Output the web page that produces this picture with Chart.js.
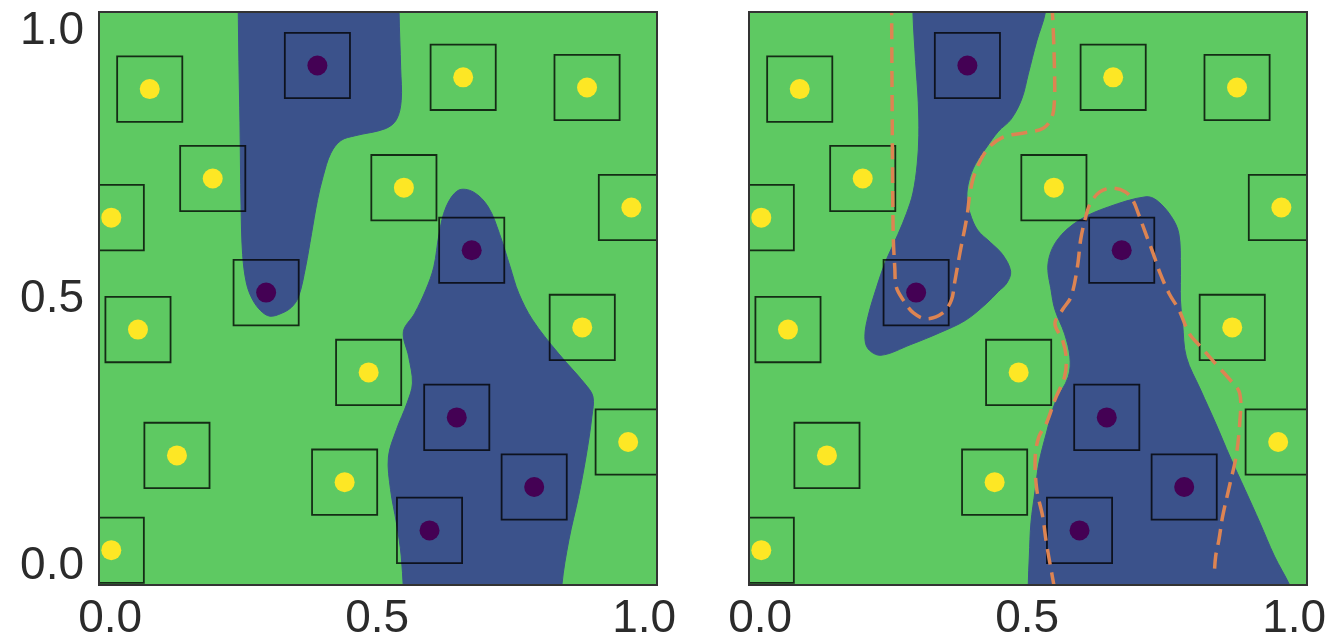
<!DOCTYPE html>
<html>
<head>
<meta charset="utf-8">
<script src="https://cdn.jsdelivr.net/npm/chart.js@4.4.1/dist/chart.umd.min.js"></script>
<style>
  html, body { margin: 0; padding: 0; background: #ffffff; }
  .panel { position: absolute; top: 0; height: 644px; }
  #leftPanel { left: 0; width: 700px; }
  #rightPanel { left: 680px; width: 652px; }
</style>
</head>
<body>
<div class="panel" id="leftPanel"><canvas id="leftChart" width="700" height="644"></canvas></div>
<div class="panel" id="rightPanel"><canvas id="rightChart" width="652" height="644"></canvas></div>
<script>
// tick labels
const xTicks = [0, 0.5, 1.0];
const yTicks = [0, 0.5, 1.0];

// training points (class 1 = yellow, class 0 = purple)
const yellowPoints = [
  [0.074, 0.892], [0.661, 0.914], [0.893, 0.895], [0.192, 0.725], [0.550, 0.708],
  [0.002, 0.652], [0.976, 0.671], [0.052, 0.443], [0.884, 0.447], [0.484, 0.363],
  [0.125, 0.208], [0.439, 0.158], [0.970, 0.233], [0.002, 0.031]
];
const purplePoints = [
  [0.388, 0.936], [0.292, 0.512], [0.677, 0.591], [0.649, 0.279], [0.794, 0.149], [0.598, 0.068]
];
// half width of the box drawn round every point
const boxRadius = 0.061;

// decision regions of class 0 (left model)
const leftUpperRegion = [
  [0.239, 1.10], [0.541, 1.10], [0.541, 1.035], [0.544, 0.93], [0.545, 0.871], [0.536, 0.835],
  [0.515, 0.818], [0.459, 0.805], [0.432, 0.796], [0.413, 0.772], [0.399, 0.730], [0.388, 0.684],
  [0.377, 0.622], [0.366, 0.560], [0.353, 0.505], [0.340, 0.485], [0.320, 0.473], [0.299, 0.468],
  [0.282, 0.478], [0.266, 0.500], [0.255, 0.530], [0.248, 0.583], [0.245, 0.675], [0.243, 0.829],
  [0.241, 0.944], [0.239, 1.10]
];
const leftLowerRegion = [
  [0.552, -0.1], [0.545, 0.020], [0.536, 0.082], [0.525, 0.144], [0.521, 0.205], [0.536, 0.256],
  [0.556, 0.306], [0.566, 0.343], [0.559, 0.392], [0.549, 0.439], [0.570, 0.473], [0.591, 0.517],
  [0.606, 0.560], [0.616, 0.622], [0.629, 0.672], [0.652, 0.703], [0.680, 0.700], [0.708, 0.672],
  [0.729, 0.622], [0.749, 0.560], [0.765, 0.511], [0.791, 0.461], [0.839, 0.399], [0.888, 0.343],
  [0.904, 0.318], [0.902, 0.280], [0.891, 0.205], [0.877, 0.131], [0.859, 0.050], [0.846, -0.033],
  [0.844, -0.1]
];

// decision regions of class 0 (right model)
const rightUpperRegion = [
  [0.286, 1.10], [0.540, 1.10], [0.534, 1.035], [0.518, 0.982], [0.502, 0.920], [0.490, 0.874],
  [0.470, 0.836], [0.446, 0.813], [0.423, 0.782], [0.403, 0.752], [0.391, 0.721], [0.387, 0.690],
  [0.393, 0.660], [0.407, 0.629], [0.431, 0.606], [0.454, 0.583], [0.469, 0.552], [0.462, 0.530],
  [0.446, 0.514], [0.423, 0.491], [0.384, 0.460], [0.336, 0.437], [0.282, 0.415], [0.226, 0.395],
  [0.202, 0.407], [0.196, 0.430], [0.202, 0.468], [0.218, 0.522], [0.234, 0.568], [0.258, 0.621],
  [0.274, 0.660], [0.286, 0.698], [0.294, 0.752], [0.297, 0.805], [0.296, 0.867], [0.291, 0.944],
  [0.286, 1.035], [0.286, 1.10]
];
const rightLowerRegion = [
  [0.502, -0.1], [0.502, -0.033], [0.504, 0.020], [0.507, 0.082], [0.515, 0.144], [0.522, 0.194],
  [0.536, 0.250], [0.552, 0.306], [0.577, 0.355], [0.580, 0.392], [0.570, 0.435], [0.552, 0.480],
  [0.545, 0.515], [0.539, 0.566], [0.556, 0.610], [0.597, 0.647], [0.652, 0.672], [0.722, 0.691],
  [0.743, 0.684], [0.770, 0.654], [0.784, 0.622], [0.787, 0.560], [0.787, 0.498], [0.791, 0.454],
  [0.798, 0.392], [0.825, 0.330], [0.853, 0.268], [0.880, 0.205], [0.908, 0.144], [0.936, 0.082],
  [0.963, 0.020], [0.991, -0.033], [1.02, -0.1]
];

// boundary of the left model, dashed on the right panel
const dashedUpper = [
  [0.246, 1.06], [0.247, 0.871], [0.249, 0.623], [0.252, 0.559], [0.255, 0.522], [0.268, 0.498],
  [0.287, 0.474], [0.312, 0.463], [0.342, 0.474], [0.358, 0.498], [0.364, 0.530], [0.374, 0.586],
  [0.387, 0.653], [0.393, 0.698], [0.402, 0.735], [0.424, 0.778], [0.454, 0.802], [0.498, 0.811],
  [0.530, 0.819], [0.546, 0.839], [0.551, 0.871], [0.551, 0.933], [0.549, 0.996], [0.546, 1.06]
];
const dashedLower = [
  [0.551, -0.04], [0.546, -0.012], [0.536, 0.044], [0.529, 0.094], [0.518, 0.144], [0.515, 0.205],
  [0.522, 0.243], [0.536, 0.268], [0.552, 0.312], [0.570, 0.355], [0.573, 0.392], [0.566, 0.424],
  [0.552, 0.454], [0.566, 0.480], [0.582, 0.504], [0.594, 0.560], [0.600, 0.610], [0.608, 0.647],
  [0.618, 0.678], [0.636, 0.700], [0.659, 0.707], [0.684, 0.700], [0.698, 0.684], [0.708, 0.660],
  [0.722, 0.622], [0.736, 0.585], [0.749, 0.548], [0.766, 0.510], [0.784, 0.480], [0.804, 0.435],
  [0.825, 0.411], [0.853, 0.379], [0.880, 0.349], [0.898, 0.324], [0.898, 0.268], [0.891, 0.205],
  [0.880, 0.156], [0.866, 0.094], [0.859, 0.050], [0.853, 0.020], [0.850, -0.018]
];

const GREEN = '#5ec962';
const BLUE = '#3b528b';
const YELLOW = '#fde725';
const PURPLE = '#440154';
const ORANGE = '#dd8452';
const EDGE = 'rgba(0, 0, 0, 0.78)';
const TEXT = '#2b2b2b';
const FONT = "'Liberation Sans', Arial, sans-serif";

const toXY = list => list.map(([x, y]) => ({ x, y }));

const boxAround = ([x, y]) => toXY([
  [x - boxRadius, y - boxRadius], [x + boxRadius, y - boxRadius],
  [x + boxRadius, y + boxRadius], [x - boxRadius, y + boxRadius],
  [x - boxRadius, y - boxRadius]
]);

// green background and dark frame of each panel
const panelFrame = {
  id: 'panelFrame',
  beforeDatasetsDraw(chart) {
    const { ctx, chartArea: a } = chart;
    ctx.save();
    ctx.fillStyle = GREEN;
    ctx.fillRect(a.left, a.top, a.right - a.left, a.bottom - a.top);
    ctx.restore();
  },
  afterDatasetsDraw(chart) {
    const { ctx, chartArea: a } = chart;
    ctx.save();
    ctx.strokeStyle = '#333333';
    ctx.lineWidth = 2;
    ctx.strokeRect(a.left, a.top, a.right - a.left, a.bottom - a.top);
    ctx.restore();
  }
};

const buildDatasets = (regions, dashed) => {
  const sets = [];
  sets.push({ data: toXY(yellowPoints), showLine: false, pointRadius: 10, pointBorderWidth: 0,
    pointBackgroundColor: YELLOW, order: 0 });
  sets.push({ data: toXY(purplePoints), showLine: false, pointRadius: 10, pointBorderWidth: 0,
    pointBackgroundColor: PURPLE, order: 0 });
  dashed.forEach(curve => sets.push({
    data: toXY(curve), borderColor: ORANGE, borderWidth: 3.5, borderDash: [16, 8],
    pointRadius: 0, tension: 0.35, fill: false, order: 1
  }));
  yellowPoints.concat(purplePoints).forEach(p => sets.push({
    data: boxAround(p), borderColor: EDGE, borderWidth: 1.8, borderCapStyle: 'square',
    pointRadius: 0, tension: 0, fill: false, order: 2
  }));
  regions.forEach(r => sets.push({
    data: toXY(r), borderColor: BLUE, borderWidth: 1, backgroundColor: BLUE,
    fill: 'shape', pointRadius: 0, tension: 0.35, order: 3
  }));
  return sets;
};

const xScale = {
  type: 'linear', min: -0.021, max: 1.024,
  grid: { display: false, drawTicks: false },
  border: { display: false },
  afterBuildTicks: s => { s.ticks = xTicks.map(v => ({ value: v })); },
  afterFit: s => { s.height = 59; s.paddingLeft = 0; s.paddingRight = 0; },
  ticks: { autoSkip: false, maxRotation: 0, padding: 7, color: TEXT,
    font: { family: FONT, size: 46 }, callback: v => v.toFixed(1) }
};

const yScale = show => ({
  type: 'linear', min: -0.034, max: 1.036, display: show,
  grid: { display: false, drawTicks: false },
  border: { display: false },
  afterBuildTicks: s => { s.ticks = yTicks.map(v => ({ value: v })); },
  afterFit: s => { s.width = show ? 99 : 0; s.paddingTop = 0; s.paddingBottom = 0; },
  ticks: { autoSkip: false, padding: 15, color: TEXT,
    font: { family: FONT, size: 46 }, callback: v => v.toFixed(1) }
});

const makeChart = (id, regions, dashed, showY, padding) => new Chart(document.getElementById(id), {
  type: 'line',
  data: { datasets: buildDatasets(regions, dashed) },
  options: {
    responsive: false,
    animation: false,
    events: [],
    elements: { line: { capBezierPoints: false } },
    layout: { padding },
    plugins: { legend: { display: false }, tooltip: { enabled: false } },
    scales: { x: xScale, y: yScale(showY) }
  },
  plugins: [panelFrame]
});

// left canvas spans 0..700, right canvas 680..1332
makeChart('leftChart', [leftUpperRegion, leftLowerRegion], [], true,
  { left: 0, right: 43, top: 12, bottom: 0 });
makeChart('rightChart', [rightUpperRegion, rightLowerRegion], [dashedUpper, dashedLower], false,
  { left: 69, right: 25, top: 12, bottom: 0 });
</script>
</body>
</html>
